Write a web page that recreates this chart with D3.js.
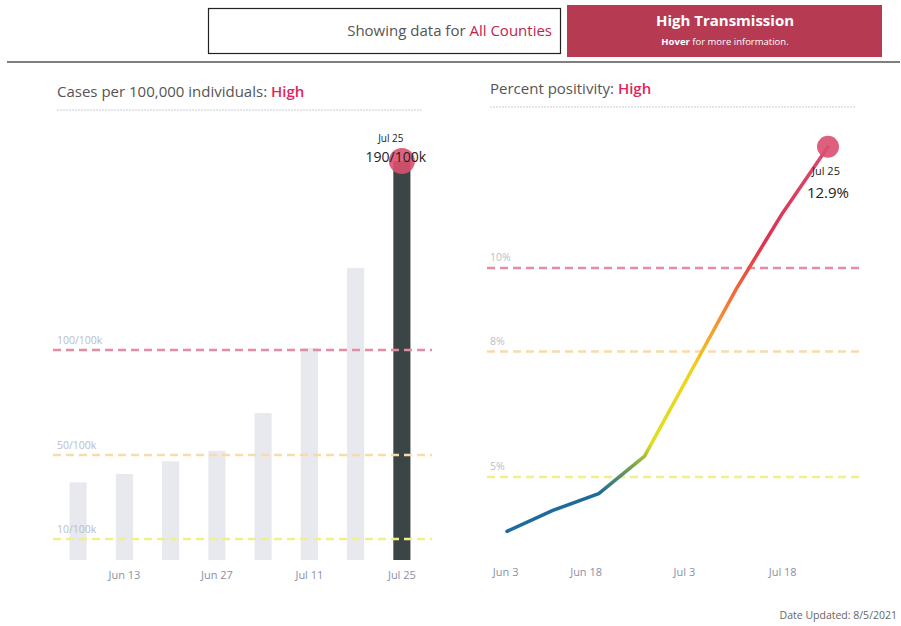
<!DOCTYPE html>
<html>
<head>
<meta charset="utf-8">
<script src="https://cdn.jsdelivr.net/npm/d3@7.9.0/dist/d3.min.js"></script>
<style>
  body { margin: 0; background: #fff; }
  svg { display: block; font-family: "Open Sans", "Noto Sans", sans-serif; }
</style>
</head>
<body>
<svg id="chart" width="901" height="626"></svg>
<script>
// weekly cases per 100k
const caseDates = ["2021-06-06", "2021-06-13", "2021-06-20", "2021-06-27", "2021-07-04", "2021-07-11", "2021-07-18", "2021-07-25"];
const caseValues = [37, 41, 47, 52, 70, 101, 139, 190];
const caseTicks = ["2021-06-13", "2021-06-27", "2021-07-11", "2021-07-25"];
const caseThresholds = [100, 50, 10];
const caseThresholdLabels = ["100/100k", "50/100k", "10/100k"];

// percent positivity
const posDates = ["2021-06-06", "2021-06-13", "2021-06-20", "2021-06-27", "2021-07-04", "2021-07-11", "2021-07-18", "2021-07-25"];
const posValues = [3.7, 4.2, 4.6, 5.5, 7.5, 9.5, 11.3, 12.9];
const posTicks = ["2021-06-03", "2021-06-18", "2021-07-03", "2021-07-18"];
const posThresholds = [10, 8, 5];
const posThresholdLabels = ["10%", "8%", "5%"];

const parse = d3.timeParse("%Y-%m-%d");
const fmt = d3.timeFormat("%b %-d");
const thresholdColors = ["#e38ca2", "#f7dcaa", "#f1ee8c"];
const pink = "#e0245e";

const svg = d3.select("#chart");

// ---- header ----
svg.append("rect").attr("x", 208.5).attr("y", 8.5).attr("width", 352).attr("height", 45)
  .attr("fill", "#fff").attr("stroke", "#222").attr("stroke-width", 1.2);
const showing = svg.append("text").attr("x", 552).attr("y", 36).attr("text-anchor", "end")
  .attr("font-size", 15).attr("fill", "#555");
showing.append("tspan").text("Showing data for ");
showing.append("tspan").attr("fill", "#c0224f").text("All Counties");

svg.append("rect").attr("x", 567).attr("y", 5).attr("width", 315).attr("height", 52).attr("fill", "#b63a52");
svg.append("text").attr("x", 725).attr("y", 26).attr("text-anchor", "middle")
  .attr("font-size", 15).attr("font-weight", 700).attr("fill", "#fff").text("High Transmission");
const hover = svg.append("text").attr("x", 725).attr("y", 45).attr("text-anchor", "middle")
  .attr("font-size", 9.5).attr("fill", "#fff");
hover.append("tspan").attr("font-weight", 700).text("Hover");
hover.append("tspan").text(" for more information.");

svg.append("line").attr("x1", 7).attr("x2", 900).attr("y1", 62).attr("y2", 62)
  .attr("stroke", "#555").attr("stroke-width", 1.5);

// ---- titles ----
function title(x, y, lead, x2) {
  const t = svg.append("text").attr("x", x).attr("y", y).attr("font-size", 15).attr("fill", "#555");
  t.append("tspan").text(lead);
  t.append("tspan").attr("fill", pink).attr("font-weight", 600).text("High");
  svg.append("line").attr("x1", x).attr("x2", x2).attr("y1", y + 13).attr("y2", y + 13)
    .attr("stroke", "#c9cad8").attr("stroke-dasharray", "2,1");
}
title(57, 97, "Cases per 100,000 individuals: ", 423);
title(490, 94, "Percent positivity: ", 855);

// ---- left: cases bars ----
const xb = d3.scaleBand().domain(caseDates).range([55, 425]).paddingInner(0.63).paddingOuter(0.315);
const yb = d3.scaleLinear().domain([0, 190]).range([560, 161]);

const bars = caseDates.map((d, i) => ({ date: d, value: caseValues[i] }));
svg.append("g").selectAll("rect").data(bars).join("rect")
  .attr("x", d => xb(d.date))
  .attr("width", xb.bandwidth())
  .attr("y", d => yb(d.value))
  .attr("height", d => yb(0) - yb(d.value))
  .attr("fill", (d, i) => i === bars.length - 1 ? "#3c4545" : "#e8e8ef");

caseThresholds.forEach((v, i) => {
  svg.append("line").attr("x1", 53).attr("x2", 432).attr("y1", yb(v)).attr("y2", yb(v))
    .attr("stroke", thresholdColors[i]).attr("stroke-width", 2.5).attr("stroke-dasharray", "8,5");
  svg.append("text").attr("x", 57).attr("y", yb(v) - 6).attr("font-size", 10.5)
    .attr("fill", "#b9bdca").text(caseThresholdLabels[i]);
});

const ax1 = svg.append("g").attr("transform", `translate(0,${yb(0) + 8})`)
  .call(d3.axisBottom(xb).tickValues(caseTicks).tickSize(0).tickFormat(d => fmt(parse(d))));
ax1.select(".domain").remove();
ax1.selectAll("text").attr("font-size", 11).attr("fill", "#8a8fa8").attr("font-family", "Open Sans, sans-serif");

const lastBar = bars[bars.length - 1];
const lbx = xb(lastBar.date) + xb.bandwidth() / 2;
svg.append("circle").attr("cx", lbx).attr("cy", yb(lastBar.value)).attr("r", 13)
  .attr("fill", "#d9506f").attr("opacity", 0.9);
svg.append("text").attr("x", lbx - 11).attr("y", 142).attr("text-anchor", "middle")
  .attr("font-size", 10).attr("fill", "#222").text(fmt(parse(lastBar.date)));
svg.append("text").attr("x", lbx - 6).attr("y", 162).attr("text-anchor", "middle")
  .attr("font-size", 14).attr("fill", "#222").text(lastBar.value + "/100k");

// ---- right: positivity line ----
const xl = d3.scaleTime().domain([parse("2021-06-06"), parse("2021-07-25")]).range([507, 828]);
const yl = d3.scaleLinear().domain([3, 13]).range([560.6, 142.6]);

posThresholds.forEach((v, i) => {
  svg.append("line").attr("x1", 487).attr("x2", 862).attr("y1", yl(v)).attr("y2", yl(v))
    .attr("stroke", thresholdColors[i]).attr("stroke-width", 2.5).attr("stroke-dasharray", "8,5");
  svg.append("text").attr("x", 490).attr("y", yl(v) - 7).attr("font-size", 10.5)
    .attr("fill", "#b9bdca").text(posThresholdLabels[i]);
});

const grad = svg.append("defs").append("linearGradient").attr("id", "posGrad")
  .attr("gradientUnits", "userSpaceOnUse")
  .attr("x1", 0).attr("x2", 0).attr("y1", yl(3.5)).attr("y2", yl(13));
const stops = [[4.6, "#1d6a9c"], [5.2, "#6f9c55"], [5.8, "#dfe01a"], [7.6, "#efd21e"],
               [8.6, "#f59a30"], [9.6, "#f0603a"], [10.6, "#e0304f"], [12.9, "#d64d72"]];
grad.selectAll("stop").data(stops).join("stop")
  .attr("offset", d => (yl(d[0]) - yl(3.5)) / (yl(13) - yl(3.5)))
  .attr("stop-color", d => d[1]);

const pts = posDates.map((d, i) => ({ date: parse(d), value: posValues[i] }));
svg.append("path").datum(pts)
  .attr("fill", "none").attr("stroke", "url(#posGrad)").attr("stroke-width", 3.5)
  .attr("stroke-linejoin", "round").attr("stroke-linecap", "round")
  .attr("d", d3.line().x(d => xl(d.date)).y(d => yl(d.value)));

const ax2 = svg.append("g").attr("transform", "translate(0,565)")
  .call(d3.axisBottom(xl).tickValues(posTicks.map(parse)).tickSize(0).tickFormat(fmt));
ax2.select(".domain").remove();
ax2.selectAll("text").attr("font-size", 11).attr("fill", "#8a8fa8").attr("font-family", "Open Sans, sans-serif");
ax2.select(".tick text").attr("text-anchor", "start").attr("x", 5);

const lastPt = pts[pts.length - 1];
svg.append("circle").attr("cx", xl(lastPt.date)).attr("cy", yl(lastPt.value)).attr("r", 11)
  .attr("fill", "#d9506f").attr("opacity", 0.9);
svg.append("text").attr("x", xl(lastPt.date) - 2).attr("y", 175).attr("text-anchor", "middle")
  .attr("font-size", 11).attr("fill", "#222").text(fmt(lastPt.date));
svg.append("text").attr("x", xl(lastPt.date)).attr("y", 198).attr("text-anchor", "middle")
  .attr("font-size", 15).attr("fill", "#222").text(lastPt.value + "%");

// footer
svg.append("text").attr("x", 897).attr("y", 619).attr("text-anchor", "end")
  .attr("font-size", 10.5).attr("fill", "#666").text("Date Updated: 8/5/2021");
</script>
</body>
</html>
